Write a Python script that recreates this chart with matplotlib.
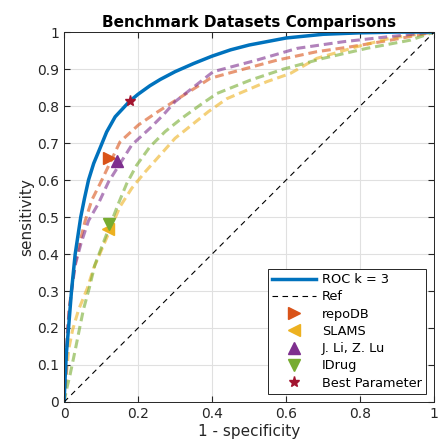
import matplotlib
matplotlib.use("Agg")
import matplotlib.pyplot as plt
from matplotlib.ticker import FuncFormatter

# ROC curve of the model (k = 3)
roc_fpr = [0, 0.002, 0.006, 0.012, 0.02, 0.03, 0.045, 0.055, 0.066, 0.08, 0.097, 0.115, 0.138,
           0.177, 0.2, 0.232, 0.26, 0.3, 0.35, 0.4, 0.45, 0.5, 0.6, 0.7, 0.8, 0.9, 1.0]
roc_tpr = [0, 0.05, 0.13, 0.2, 0.3, 0.4, 0.5, 0.55, 0.6, 0.645, 0.686, 0.73, 0.771,
           0.813, 0.832, 0.855, 0.872, 0.893, 0.915, 0.935, 0.952, 0.965, 0.984, 0.994, 0.998, 1.0, 1.0]

# benchmark dataset curves
repodb_fpr = [0, 0.005, 0.007, 0.009, 0.014, 0.021, 0.03, 0.043, 0.057, 0.075, 0.102,
              0.151, 0.201, 0.246, 0.296, 0.395, 0.449, 0.575, 0.683, 0.773, 0.881, 1.0]
repodb_tpr = [0, 0.086, 0.14, 0.19, 0.254, 0.31, 0.375, 0.433, 0.49, 0.546, 0.6,
              0.703, 0.749, 0.78, 0.812, 0.875, 0.89, 0.924, 0.947, 0.96, 0.978, 1.0]

slams_fpr = [0, 0.006, 0.012, 0.023, 0.039, 0.063, 0.08, 0.105, 0.151, 0.183, 0.219,
             0.26, 0.3, 0.345, 0.39, 0.44, 0.494, 0.548, 0.611, 0.683, 0.79, 0.88, 1.0]
slams_tpr = [0, 0.07, 0.14, 0.195, 0.249, 0.308, 0.362, 0.42, 0.528, 0.578, 0.622,
             0.668, 0.713, 0.749, 0.785, 0.82, 0.843, 0.866, 0.888, 0.929, 0.96, 0.983, 1.0]

jli_fpr = [0, 0.005, 0.007, 0.009, 0.014, 0.021, 0.03, 0.046, 0.066, 0.093, 0.12,
           0.183, 0.232, 0.268, 0.3, 0.403, 0.52, 0.63, 0.755, 0.863, 1.0]
jli_tpr = [0, 0.08, 0.135, 0.185, 0.25, 0.305, 0.37, 0.43, 0.49, 0.537, 0.595,
           0.695, 0.74, 0.776, 0.812, 0.893, 0.924, 0.956, 0.974, 0.986, 1.0]

idrug_fpr = [0, 0.008, 0.016, 0.03, 0.041, 0.052, 0.068, 0.083, 0.102, 0.147, 0.169,
             0.196, 0.232, 0.273, 0.318, 0.368, 0.413, 0.503, 0.593, 0.7, 0.818, 0.935, 1.0]
idrug_tpr = [0, 0.04, 0.073, 0.14, 0.195, 0.249, 0.308, 0.37, 0.42, 0.537, 0.59,
             0.64, 0.69, 0.731, 0.767, 0.803, 0.834, 0.87, 0.9, 0.929, 0.956, 0.978, 1.0]

# single operating points
point_names = ["repoDB", "SLAMS", "J. Li, Z. Lu", "IDrug"]
point_fpr = [0.122, 0.118, 0.144, 0.122]
point_tpr = [0.659, 0.467, 0.652, 0.481]
best_fpr = 0.177
best_tpr = 0.813

blue = (0, 0.447, 0.741)
orange = (0.85, 0.325, 0.098)
yellow = (0.929, 0.694, 0.125)
purple = (0.494, 0.184, 0.556)
green = (0.466, 0.674, 0.188)
darkred = (0.635, 0.078, 0.184)

fig = plt.figure(figsize=(4.39, 4.43), dpi=100)
ax = fig.add_axes([0.146, 0.0926, 0.843, 0.835])

dash = (0, (2.9, 1.6))
ax.plot(repodb_fpr, repodb_tpr, color=orange, lw=2.2, ls=dash, alpha=0.6)
ax.plot(slams_fpr, slams_tpr, color=yellow, lw=2.2, ls=dash, alpha=0.6)
ax.plot(jli_fpr, jli_tpr, color=purple, lw=2.2, ls=dash, alpha=0.6)
ax.plot(idrug_fpr, idrug_tpr, color=green, lw=2.2, ls=dash, alpha=0.6)

ax.plot(roc_fpr, roc_tpr, color=blue, lw=2.5, label="ROC k = 3")
ax.plot([0, 1], [0, 1], color="k", lw=0.8, ls=(0, (5, 4)), label="Ref")

markers = [">", "<", "^", "v"]
colors = [orange, yellow, purple, green]
for i in range(4):
    ax.plot(point_fpr[i], point_tpr[i], ls="none", marker=markers[i], ms=9,
            color=colors[i], label=point_names[i])
ax.plot(best_fpr, best_tpr, ls="none", marker="*", ms=8, color=darkred,
        label="Best Parameter")

ax.set_xlim(0, 1)
ax.set_ylim(0, 1)
ax.set_xticks([0, 0.2, 0.4, 0.6, 0.8, 1])
ax.set_yticks([0, 0.1, 0.2, 0.3, 0.4, 0.5, 0.6, 0.7, 0.8, 0.9, 1])
fmt = FuncFormatter(lambda v, p: "%g" % round(v, 2))
ax.xaxis.set_major_formatter(fmt)
ax.yaxis.set_major_formatter(fmt)
ax.tick_params(direction="in", top=True, right=True, labelsize=10,
               colors="0.15", length=4)
ax.grid(True, color="0.88", lw=0.8)
for s in ax.spines.values():
    s.set_color("0.15")
    s.set_linewidth(0.7)

ax.set_title("Benchmark Datasets Comparisons", fontsize=11, fontweight="bold", pad=4)
ax.set_xlabel("1 - specificity", fontsize=11, color="0.15", labelpad=2)
ax.set_ylabel("sensitivity", fontsize=11, color="0.15", labelpad=2)

leg = ax.legend(loc="lower right", fontsize=9.3, handlelength=3.4, fancybox=False,
                edgecolor="0.15", framealpha=1, borderpad=0.35, labelspacing=0.33,
                handletextpad=0.45, borderaxespad=0.6)
leg.get_frame().set_linewidth(0.7)

fig.savefig("out.png", dpi=100)
